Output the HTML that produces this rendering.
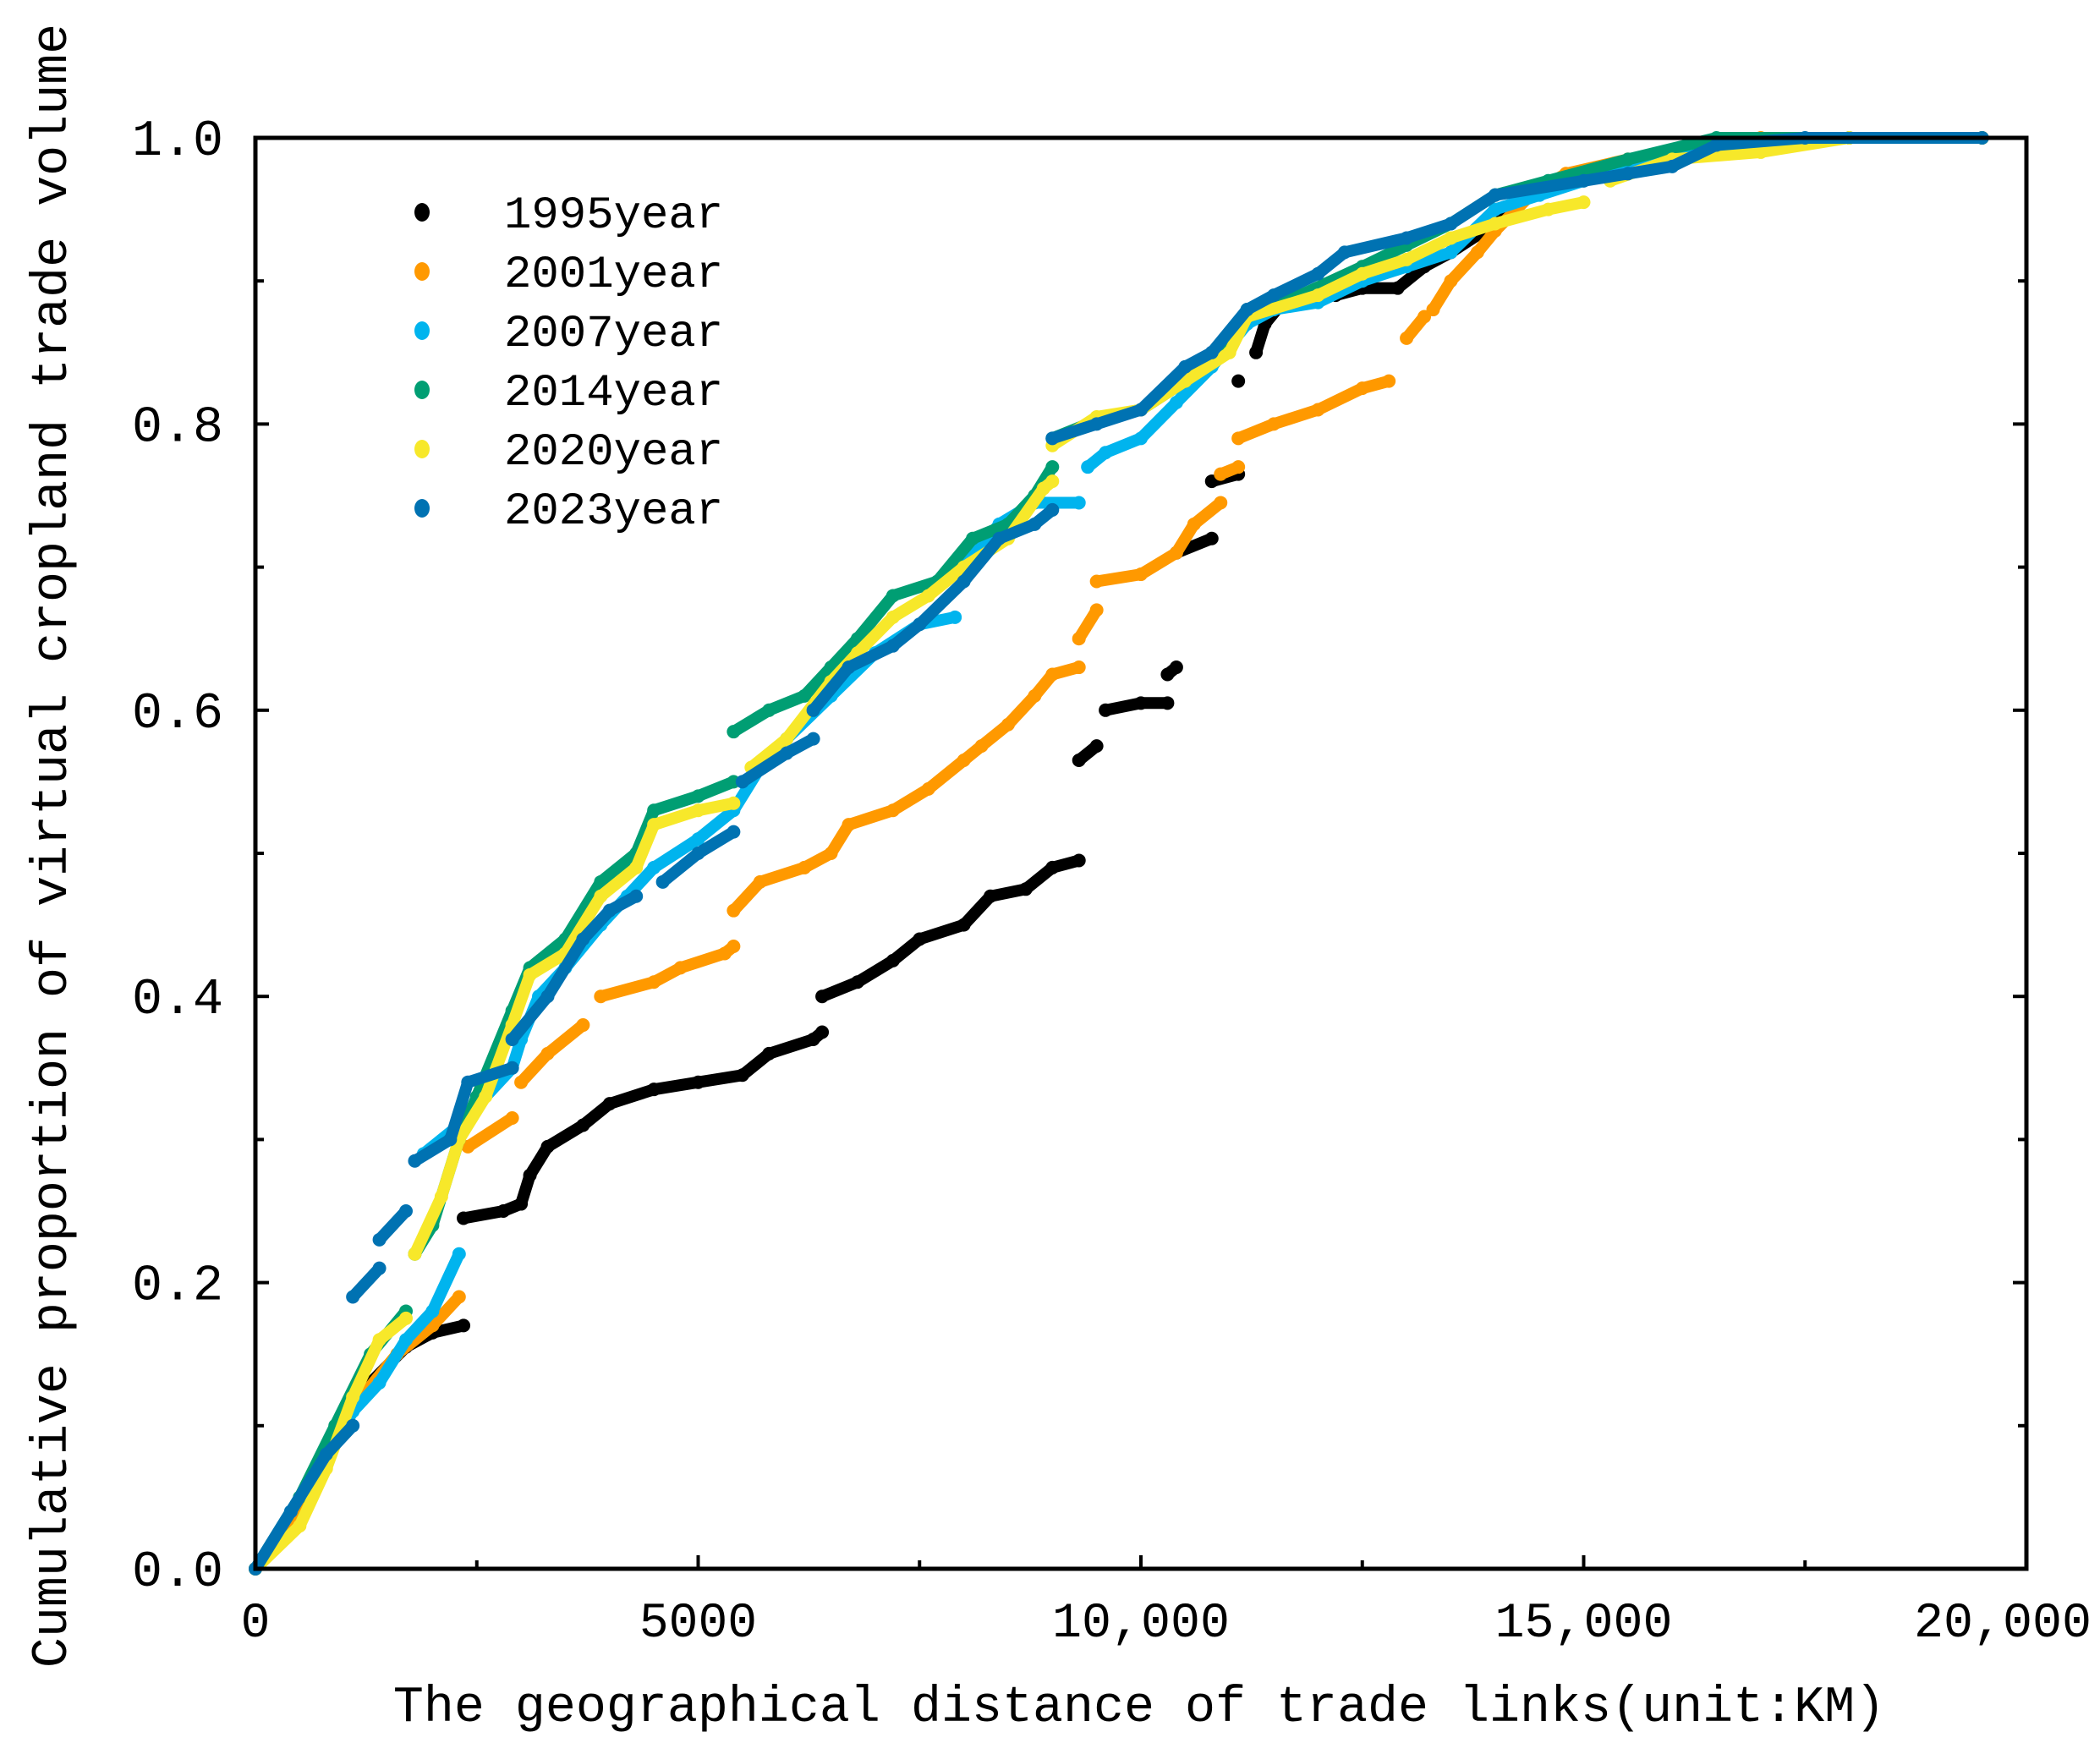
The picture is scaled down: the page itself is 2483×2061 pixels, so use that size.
<!DOCTYPE html>
<html><head><meta charset="utf-8"><style>
html,body{margin:0;padding:0;background:#fff;}
svg{display:block;}
text{font-family:"Liberation Mono","Noto Serif CJK SC",monospace;fill:#000;}
</style></head><body>
<svg id="chart" width="2483" height="2061" viewBox="0 0 2483 2061" xmlns="http://www.w3.org/2000/svg">
<g id="series"></g>
<g id="axes"></g>
<g id="legend"></g>
<text transform="translate(78,1000) rotate(-90)" text-anchor="middle" font-size="60">Cumulative proportion of virtual cropland trade volume</text>
<text x="1347" y="2035" text-anchor="middle" font-size="60">The geographical distance of trade links(unit:KM)</text>
</svg>
<script>
// data (null = gap)
const xTicks=[0,5000,10000,15000,20000];
const xTickLabels=["0","5000","10,000","15,000","20,000"];
const yTicks=[0,0.2,0.4,0.6,0.8,1.0];
const yTickLabels=["0.0","0.2","0.4","0.6","0.8","1.0"];
const seriesNames=["1995year","2001year","2007year","2014year","2020year","2023year"];
const seriesColors=["#000000","#FF9900","#00B4EE","#009E73","#F7E82A","#0072B2"];
const s1995=[[0,0],[300,0.02],[700,0.06],[1000,0.1],[1300,0.13],[1700,0.155],[2000,0.165],[2350,0.17],null,[2350,0.245],[2800,0.25],[3000,0.255],[3100,0.275],[3300,0.295],[3700,0.31],[4000,0.325],[4500,0.335],[5000,0.34],[5500,0.345],[5800,0.36],[6300,0.37],[6400,0.375],null,[6400,0.4],[6800,0.41],[7200,0.425],[7500,0.44],[8000,0.45],[8300,0.47],[8700,0.475],[9000,0.49],[9300,0.495],null,[9300,0.565],[9500,0.575],null,[9600,0.6],[10000,0.605],[10300,0.605],null,[10300,0.625],[10400,0.63],null,[10400,0.71],[10800,0.72],null,[10800,0.76],[11100,0.765],null,[11100,0.83],null,[11300,0.85],[11400,0.87],[11600,0.885],[12200,0.89],[12500,0.895],[12900,0.895],[13200,0.91],[13500,0.92],[14000,0.94],[14400,0.96],[14700,0.97],[15200,0.975],[16500,0.995],[18000,1.0],[19500,1.0]];
const s2001=[[0,0],[500,0.04],[800,0.08],[1200,0.12],[1600,0.15],[2000,0.17],[2300,0.19],null,[2400,0.295],[2900,0.315],null,[3000,0.34],[3300,0.36],[3700,0.38],null,[3900,0.4],[4500,0.41],[4800,0.42],[5300,0.43],[5400,0.435],null,[5400,0.46],[5700,0.48],[6200,0.49],[6500,0.5],[6700,0.52],[7200,0.53],[7600,0.545],[8000,0.565],[8200,0.575],[8500,0.59],[8800,0.61],[9000,0.625],[9300,0.63],null,[9300,0.65],[9500,0.67],null,[9500,0.69],[10000,0.695],[10400,0.71],[10600,0.73],[10900,0.745],null,[10900,0.765],[11100,0.77],null,[11100,0.79],[11500,0.8],[12000,0.81],[12500,0.825],[12800,0.83],null,[13000,0.86],[13200,0.875],null,[13300,0.88],[13500,0.9],[13800,0.92],[14000,0.935],[14400,0.96],[14800,0.975],[15500,0.985],[17000,1.0],[19500,1.0]];
const s2007=[[0,0],[400,0.04],[800,0.08],[1100,0.11],[1400,0.13],[1700,0.16],[2000,0.18],[2300,0.22],null,[1900,0.29],[2300,0.31],[2900,0.35],[3000,0.37],[3200,0.4],[3500,0.42],[3900,0.45],[4200,0.47],[4500,0.49],[5000,0.51],[5400,0.53],[5700,0.56],[6000,0.58],[6500,0.61],[7000,0.64],[7500,0.66],[7900,0.665],null,[8000,0.7],[8400,0.73],[8800,0.745],[9300,0.745],null,[9400,0.77],[9600,0.78],[10000,0.79],[10400,0.815],[10800,0.84],[11200,0.87],[11500,0.88],[12000,0.885],[12500,0.9],[13000,0.91],[13500,0.92],[14000,0.95],[14500,0.96],[15000,0.97],[15500,0.98],[16500,0.995],[18000,1.0],[19500,1.0]];
const s2014=[[0,0],[500,0.05],[900,0.1],[1300,0.15],[1700,0.18],null,[1800,0.22],[2000,0.24],[2300,0.3],[2500,0.33],[2900,0.39],[3100,0.42],[3500,0.44],[3900,0.48],[4300,0.5],[4500,0.53],[5000,0.54],[5400,0.55],null,[5400,0.585],[5800,0.6],[6200,0.61],[6500,0.63],[6800,0.65],[7200,0.68],[7700,0.69],[8100,0.72],[8500,0.73],[8800,0.75],[9000,0.77],null,[9000,0.79],[9600,0.805],[10000,0.81],[10500,0.83],[11000,0.86],[11200,0.88],[11800,0.89],[12500,0.91],[13000,0.925],[13500,0.94],[14000,0.96],[14600,0.97],[15500,0.985],[16500,1.0],[19500,1.0]];
const s2020=[[0,0],[500,0.03],[800,0.07],[1100,0.12],[1400,0.16],[1700,0.175],null,[1800,0.22],[2100,0.26],[2300,0.3],[2600,0.33],[2900,0.38],[3100,0.415],[3500,0.43],[3900,0.47],[4300,0.49],[4500,0.52],[5000,0.53],[5400,0.535],null,[5600,0.56],[6000,0.58],[6500,0.62],[6800,0.64],[7200,0.665],[7600,0.68],[8000,0.7],[8500,0.72],[8900,0.755],[9000,0.76],null,[9000,0.785],[9500,0.805],[10000,0.81],[10500,0.83],[11000,0.85],[11200,0.875],[12000,0.89],[12500,0.905],[13000,0.915],[13500,0.93],[14000,0.94],[14600,0.95],[15000,0.955],null,[15300,0.97],[16000,0.985],[17000,0.99],[18000,1.0],[19500,1.0]];
const s2023=[[0,0],[400,0.04],[800,0.08],[1100,0.1],null,[1100,0.19],[1400,0.21],null,[1400,0.23],[1700,0.25],null,[1800,0.285],[2200,0.3],[2400,0.34],[2900,0.35],null,[2900,0.37],[3300,0.4],[3700,0.44],[4000,0.46],[4300,0.47],null,[4600,0.48],[5000,0.5],[5400,0.515],null,[5500,0.55],[6000,0.57],[6300,0.58],null,[6300,0.6],[6700,0.63],[7200,0.645],[7500,0.66],[8000,0.69],[8400,0.72],[8800,0.73],[9000,0.74],null,[9000,0.79],[9500,0.8],[10000,0.81],[10500,0.84],[10800,0.85],[11200,0.88],[11500,0.89],[12000,0.905],[12300,0.92],[13000,0.93],[13500,0.94],[14000,0.96],[15000,0.97],[15500,0.975],[16000,0.98],[16500,0.995],[17500,1.0],[19500,1.0]];
const allSeries=[s1995,s2001,s2007,s2014,s2020,s2023];

const NS="http://www.w3.org/2000/svg";
const L=302,R=2396,T=163,B=1855;
const xs=v=>L+v/20000*(R-L);
const ys=v=>B-v*(B-T);
function mk(tag,attrs,parent){const e=document.createElementNS(NS,tag);for(const k in attrs)e.setAttribute(k,attrs[k]);parent.appendChild(e);return e;}

const sg=document.getElementById('series');
allSeries.forEach((data,si)=>{
  const g=mk('g',{},sg);
  
  
  let segs=[[]];
  data.forEach(p=>{if(p===null)segs.push([]);else segs[segs.length-1].push(p);});
  segs.forEach(seg=>{
    if(!seg.length)return;
    const pts=seg.map(p=>xs(p[0]).toFixed(1)+','+ys(p[1]).toFixed(1)).join(' ');
    const pl=mk('polyline',{points:pts,fill:'none',stroke:seriesColors[si],'stroke-width':14,'stroke-linecap':'round','stroke-linejoin':'round'},g);
    
    
  });
  data.forEach(p=>{if(!p)return;
    const c=mk('circle',{cx:xs(p[0]),cy:ys(p[1]),r:8,fill:seriesColors[si]},g);
    
    
  });
});

const ax=document.getElementById('axes');
const frame=mk('rect',{x:L,y:T,width:R-L,height:B-T,fill:'none',stroke:'#000','stroke-width':5},ax);


for(let v=0;v<=20000;v+=2500){
  const major=v%5000===0;const len=major?16:10;
  mk('line',{x1:xs(v),x2:xs(v),y1:B,y2:B-len,stroke:'#000','stroke-width':4},ax);
}
for(let i=0;i<=10;i++){
  const v=i/10;const major=i%2===0;const len=major?16:10;
  mk('line',{x1:L,x2:L+len,y1:ys(v),y2:ys(v),stroke:'#000','stroke-width':4},ax);
  mk('line',{x1:R,x2:R-len,y1:ys(v),y2:ys(v),stroke:'#000','stroke-width':4},ax);
}
xTicks.forEach((v,i)=>{
  const lab=xTickLabels[i];
  const attrs={x:xs(v)-(i===xTicks.length-1?28:0),y:1935,'text-anchor':'middle','font-size':58};
  if(lab.length===6){attrs.textLength=210;attrs.lengthAdjust='spacingAndGlyphs';}
  const t=mk('text',attrs,ax);
  t.textContent=lab;
  
  
});
yTicks.forEach((v,i)=>{
  const t=mk('text',{x:264,y:ys(v)+20,'text-anchor':'end','font-size':60},ax);
  t.textContent=yTickLabels[i];
  
  
});

const lg=document.getElementById('legend');
seriesNames.forEach((n,i)=>{
  const g=mk('g',{},lg);
  
  
  const y=251+i*70;
  mk('ellipse',{cx:499,cy:y,rx:9,ry:11,fill:seriesColors[i]},g);
  const t=mk('text',{x:596,y:y+18,'font-size':54},g);
  t.textContent=n;
});
</script>
</body></html>
